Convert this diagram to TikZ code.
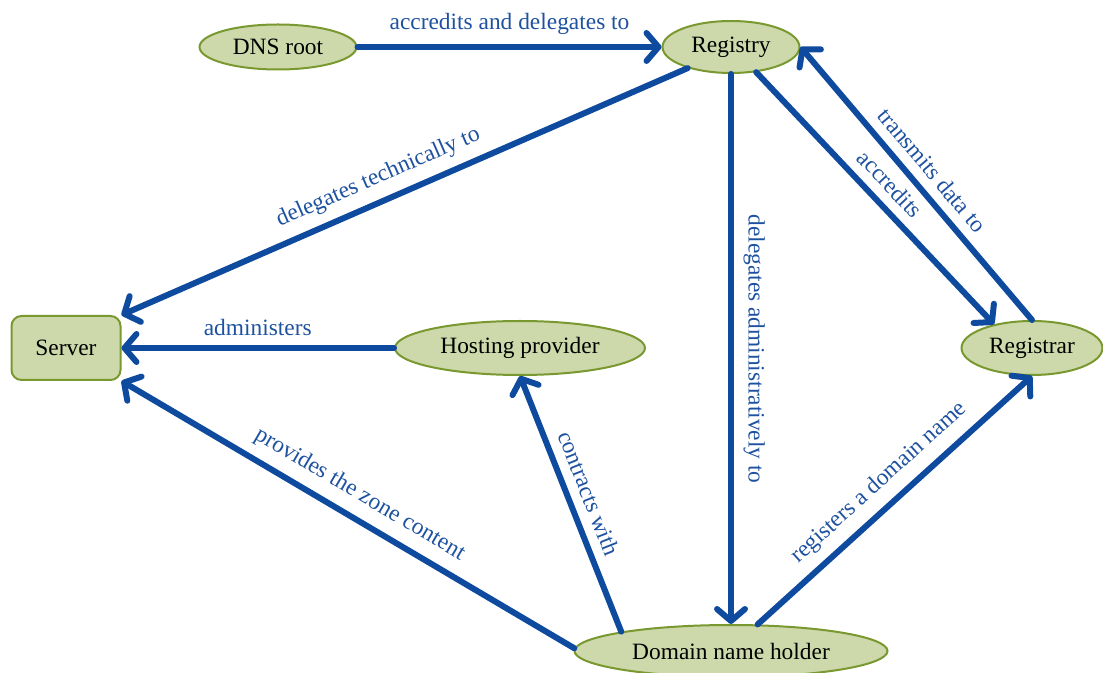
\documentclass[tikz,border=0pt]{standalone}
\usepackage{fontspec}
\setmainfont{Liberation Serif}
\usepackage{xcolor}
\usepackage{tikz}
\usetikzlibrary{arrows.meta}
\usetikzlibrary{shapes.geometric}
\definecolor{relblue}{RGB}{14,74,158}
\definecolor{lblblue}{RGB}{30,82,160}
\definecolor{entfill}{RGB}{205,217,170}
\definecolor{entline}{RGB}{122,152,48}
\newcommand\ntxt{\fontsize{11.7}{14}\selectfont}
\tikzstyle{ent}=[ellipse,draw=entline,fill=entfill,line width=1pt,inner sep=0pt,font=\ntxt]
\tikzstyle{box}=[rectangle,rounded corners=5pt,draw=entline,fill=entfill,line width=1pt,inner sep=0pt,font=\ntxt]
\tikzstyle{relhead}=[>/.tip={Straight Barb[length=6pt,width=14pt,round]}]
\tikzstyle{rel}=[line width=3pt,draw=relblue,line cap=round,relhead,->]
\tikzstyle{lbl}=[font=\ntxt,text=lblblue,sloped,above=1.5pt]

\begin{document}
\begin{tikzpicture}[x=0.5pt,y=-0.5pt]
	\useasboundingbox (0,0) rectangle (1103,673);
	\node[ent,minimum width=78.5pt,minimum height=22.5pt] (root)      at (278,47)  {DNS root};
	\node[ent,minimum width=68.5pt,minimum height=26pt]   (registry)  at (731,47)  {Registry};
	\node[box,minimum width=54.5pt,minimum height=32pt]   (server)    at (66,348)  {Server};
	\node[ent,minimum width=125pt,minimum height=27pt]    (hosting)   at (520,348) {Hosting provider};
	\node[ent,minimum width=70.5pt,minimum height=27pt]   (registrar) at (1032,348) {Registrar};
	\node[ent,minimum width=156.5pt,minimum height=26pt]  (holder)    at (731,651) {Domain name holder};

	\draw[rel] (root) --node[lbl] {accredits and delegates to} (registry);
	\draw[rel] (registry.206) --node[lbl,pos=.53] {delegates technically to} (server.north east);
	\draw[rel] (hosting) --node[lbl] {administers} (server);
	\draw[rel] (holder.179) --node[lbl,pos=.5] {provides the zone content} (server.south east);
	\draw[rel] (holder.170) --node[lbl,pos=.51] {contracts with} (hosting.south);
	\draw[rel] (registry.south) --node[lbl,allow upside down] {delegates administratively to} (registry.south |- holder.north);
	\draw[rel] (registry.-45) --node[lbl] {accredits} (registrar.148);
	\draw[rel] (registrar.north) --node[lbl] {transmits data to} (registry.east);
	\draw[rel] (holder.45) --node[lbl] {registers a domain name} (registrar.south);
\end{tikzpicture}
\end{document}
